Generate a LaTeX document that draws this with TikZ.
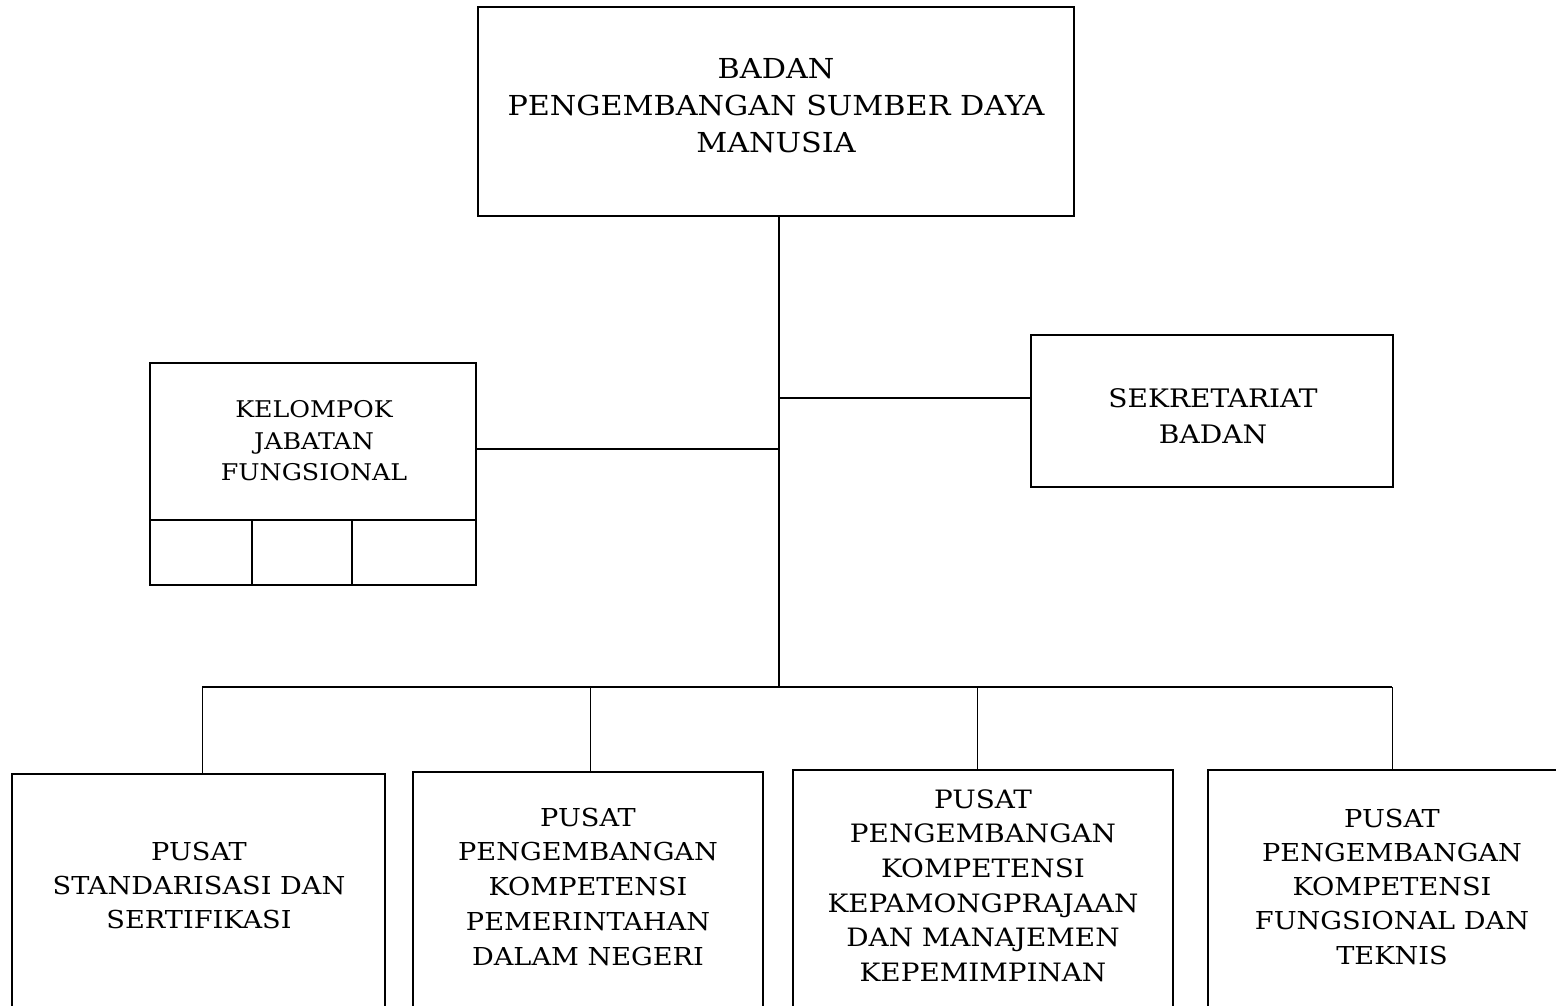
\documentclass[tikz,border=0pt]{standalone}
\usepackage{fontspec}
\setmainfont[FakeStretch=1.1]{DejaVu Serif}
\begin{document}
\begin{tikzpicture}[x=1pt,y=-1pt,
  box/.style={draw, line width=1.8pt, inner sep=0pt, outer sep=0pt, anchor=north west},
  conn/.style={line width=1.8pt},
  drop/.style={line width=1pt},
  lbl/.style={align=center, inner sep=0pt}]
\useasboundingbox (0,0) rectangle (1556,1005);
\clip (0,0) rectangle (1556,1005);
% boxes
\node[box, minimum width=596pt, minimum height=209pt] (badan) at (478,7) {};
\node[box, minimum width=362pt, minimum height=152pt] (sekr) at (1031,335) {};
\node[box, minimum width=326pt, minimum height=222pt] (kel) at (150,363) {};
\node[box, minimum width=373pt, minimum height=260pt] (p1) at (12,774) {};
\node[box, minimum width=350pt, minimum height=260pt] (p2) at (413,772) {};
\node[box, minimum width=380pt, minimum height=260pt] (p3) at (793,770) {};
\node[box, minimum width=360pt, minimum height=260pt] (p4) at (1208,770) {};
% kelompok sub cells
\coordinate (kdl) at (150,520);
\coordinate (kdr) at (476,520);
\draw[conn] (kdl) -- (kdr);
\draw[conn] (252,520) -- (kel.south west -| 252,0);
\draw[conn] (352,520) -- (kel.south west -| 352,0);
% texts
\node[lbl, font=\fontsize{27.5}{37}\selectfont] (tb) at (776,106) {BADAN\\PENGEMBANGAN SUMBER DAYA\\MANUSIA};
\node[lbl, font=\fontsize{25.5}{36}\selectfont] (ts) at (1213,416) {SEKRETARIAT\\BADAN};
\node[lbl, font=\fontsize{23}{31.5}\selectfont] (tk) at (314,441) {KELOMPOK\\JABATAN\\FUNGSIONAL};
\node[lbl, font=\fontsize{24.7}{34}\selectfont] (t1) at (199,885) {PUSAT\\STANDARISASI DAN\\SERTIFIKASI};
\node[lbl, font=\fontsize{24.7}{34.75}\selectfont] (t2) at (588,886.5) {PUSAT\\PENGEMBANGAN\\KOMPETENSI\\PEMERINTAHAN\\DALAM NEGERI};
\node[lbl, font=\fontsize{25.3}{34.6}\selectfont] (t3) at (983,885.5) {PUSAT\\PENGEMBANGAN\\KOMPETENSI\\KEPAMONGPRAJAAN\\DAN MANAJEMEN\\KEPEMIMPINAN};
\node[lbl, font=\fontsize{24.7}{34.25}\selectfont] (t4) at (1392,886.5) {PUSAT\\PENGEMBANGAN\\KOMPETENSI\\FUNGSIONAL DAN\\TEKNIS};
% connectors
\coordinate (trtop) at (779,216);
\coordinate (bus) at (779,687);
\coordinate (busL) at (202,687);
\coordinate (busR) at (1392,687);
\draw[conn] (trtop) -- (bus);
\draw[conn] (busL) -- (busR);
\draw[conn] (779,398) -- (sekr.west |- 0,398);
\draw[conn] (kel.east |- 0,449) -- (779,449);
\draw[drop] (busL) -- (busL |- p1.north);
\draw[drop] (590,687) -- (590,772);
\draw[drop] (977,687) -- (977,770);
\draw[drop] (busR) -- (busR |- p4.north);
\end{tikzpicture}
\end{document}
